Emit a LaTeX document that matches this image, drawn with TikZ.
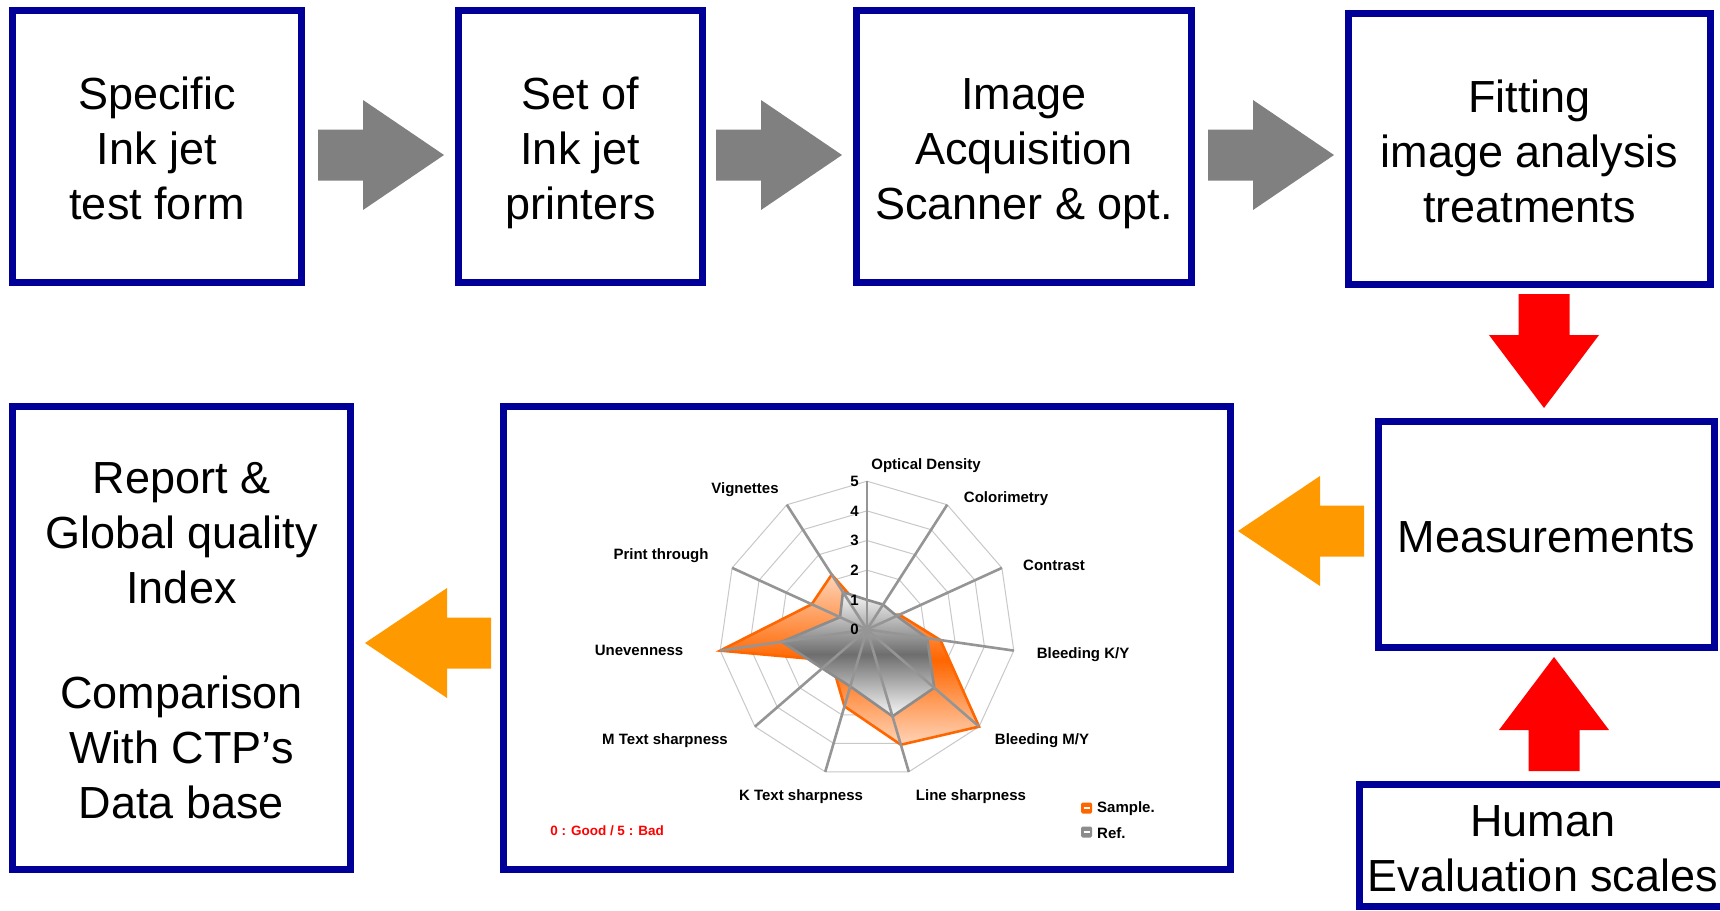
\documentclass[tikz,border=0pt]{standalone}
\usepackage{fontspec}
\setmainfont{Liberation Sans}
\usetikzlibrary{calc}

\definecolor{boxblue}{HTML}{000099}
\definecolor{flowgray}{HTML}{808080}
\definecolor{flowred}{HTML}{FF0000}
\definecolor{floworange}{HTML}{FF9900}
\definecolor{samplecol}{HTML}{FF6600}
\definecolor{samplelight}{HTML}{FFD4B8}
\definecolor{refline}{HTML}{8C8C8C}
\definecolor{refdark}{HTML}{6E6E6E}
\definecolor{reflight}{HTML}{F8F8F8}
\definecolor{gridcol}{HTML}{C8C8C8}
\definecolor{axiscol}{HTML}{959595}
\definecolor{notered}{HTML}{FF0000}

% line strut: every box line gets the same height and depth
\newcommand\lstrut{\rule[-9.5pt]{0pt}{55pt}}

% block arrow from tail #1 to tip #2, colour #3, head length #4
\newcommand\blockarrow[4]{%
  \fill[#3] let \p1=(#1), \p2=(#2),
    \n1={atan2(\y2-\y1,\x2-\x1)}, \n2={veclen(\x2-\x1,\y2-\y1)} in
    [shift={(\p1)}, rotate=\n1]
    (0,-25.5) -- ({\n2-#4},-25.5) -- ({\n2-#4},-55) -- ({\n2},0)
    -- ({\n2-#4},55) -- ({\n2-#4},25.5) -- (0,25.5) -- cycle;}

\begin{document}
\begin{tikzpicture}[x=1pt, y=-1pt,
  box/.style={draw=boxblue, line width=7, fill=white, align=center,
    inner sep=0, font=\fontsize{45}{55}\selectfont},
  gridline/.style={draw=gridcol, line width=1},
  axisline/.style={draw=axiscol, line width=2.6},
  catlabel/.style={font=\bfseries\fontsize{15}{17}\selectfont, inner sep=0},
  vallabel/.style={font=\bfseries\fontsize{15}{17}\selectfont, inner sep=0, anchor=east},
]
\useasboundingbox (0,0) rectangle (1720,910);
\clip (0,0) rectangle (1720,910);
\fill[white] (0,0) rectangle (1720,910);

% process boxes
\node[box, minimum width=289, minimum height=272] (b1) at (157,146.5)
  {\lstrut Specific\\\lstrut Ink jet\\\lstrut test form};
\node[box, minimum width=244, minimum height=272] (b2) at (580.5,146.5)
  {\lstrut Set of\\\lstrut Ink jet\\\lstrut printers};
\node[box, minimum width=335, minimum height=272] (b3) at (1024,146.5)
  {\lstrut Image\\\lstrut Acquisition\\\lstrut Scanner \& opt.};
\node[box, minimum width=362, minimum height=271] (b4) at (1529.5,149)
  {\lstrut Fitting\\\lstrut image analysis\\\lstrut treatments};
\node[box, minimum width=336, minimum height=226] (meas) at (1546.5,534.5)
  {\lstrut Measurements};
\node[box, minimum width=727, minimum height=463] (chart) at (867,638) {};
\node[box, minimum width=338, minimum height=463] (report) at (181.5,638)
  {\lstrut Report \&\\\lstrut Global quality\\\lstrut Index\\[50pt]%
   \lstrut Comparison\\\lstrut With CTP’s\\\lstrut Data base};
\node[box, minimum width=367, minimum height=122] (human) at (1543,845.5)
  {\lstrut Human\\\lstrut Evaluation scales};

% arrow end points
\coordinate (g1t) at (318,155);  \coordinate (g1h) at (444,155);
\coordinate (g2t) at (716,155);  \coordinate (g2h) at (842,155);
\coordinate (g3t) at (1208,155); \coordinate (g3h) at (1334,155);
\coordinate (rdt) at (1544,294); \coordinate (rdh) at (1544,408);
\coordinate (rut) at (1554,771); \coordinate (ruh) at (1554,657);
\coordinate (o1t) at (1364,531); \coordinate (o1h) at (1238,531);
\coordinate (o2t) at (491,643);  \coordinate (o2h) at (365,643);

\blockarrow{g1t}{g1h}{flowgray}{81}
\blockarrow{g2t}{g2h}{flowgray}{81}
\blockarrow{g3t}{g3h}{flowgray}{81}
\blockarrow{rdt}{rdh}{flowred}{73}
\blockarrow{rut}{ruh}{flowred}{73}
\blockarrow{o1t}{o1h}{floworange}{82}
\blockarrow{o2t}{o2h}{floworange}{82}

% radar chart
\def\cx{867}
\def\cy{629.5}
\def\unitv{29.66}
\coordinate (c) at (\cx,\cy);
\foreach \ka/\sv/\rv in {0/0.5/1.0, 1/0.6/1.0, 2/1.2/1.1, 3/2.5/2.05, 4/5/3.0,
    5/4.05/3.05, 6/2.7/2.0, 7/1.6/2.0, 8/5/2.9, 9/2.05/1.0, 10/2.2/1.5}{
  \coordinate (s\ka) at ({\cx+\sv*\unitv*sin(\ka*360/11)}, {\cy-\sv*\unitv*cos(\ka*360/11)});
  \coordinate (r\ka) at ({\cx+\rv*\unitv*sin(\ka*360/11)}, {\cy-\rv*\unitv*cos(\ka*360/11)});
  \coordinate (e\ka) at ({\cx+5*\unitv*sin(\ka*360/11)}, {\cy-5*\unitv*cos(\ka*360/11)});
}
% grid rings
\foreach \n in {1,...,5}{
  \draw[gridline] ({\cx},{\cy-\n*\unitv})
    \foreach \ka in {1,...,10}{ -- ({\cx+\n*\unitv*sin(\ka*360/11)}, {\cy-\n*\unitv*cos(\ka*360/11)}) }
    -- cycle;
}
% series
\draw[draw=samplecol, line width=2.6, line join=miter,
  top color=samplelight, bottom color=samplelight, middle color=samplecol]
  (s0) -- (s1) -- (s2) -- (s3) -- (s4) -- (s5) -- (s6) -- (s7) -- (s8) -- (s9) -- (s10) -- cycle;
\draw[draw=refline, line width=2.6, line join=miter,
  top color=reflight, bottom color=reflight, middle color=refdark]
  (r0) -- (r1) -- (r2) -- (r3) -- (r4) -- (r5) -- (r6) -- (r7) -- (r8) -- (r9) -- (r10) -- cycle;
% category axes
\foreach \ka in {0,...,10}{ \draw[axisline] (c) -- (e\ka); }
% scale values
\foreach \v in {0,...,5}{ \node[vallabel] (val\v) at ({\cx-8},{\cy-\v*\unitv}) {\v}; }
% category labels
\node[catlabel] (l0)  at (926,466)  {Optical Density};
\node[catlabel] (l1)  at (1006,499) {Colorimetry};
\node[catlabel] (l2)  at (1054,565) {Contrast};
\node[catlabel] (l3)  at (1083,655) {Bleeding K/Y};
\node[catlabel] (l4)  at (1042,741) {Bleeding M/Y};
\node[catlabel] (l5)  at (971,797)  {Line sharpness};
\node[catlabel] (l6)  at (801,797)  {K Text sharpness};
\node[catlabel] (l7)  at (665,741)  {M Text sharpness};
\node[catlabel] (l8)  at (639,650)  {Unevenness};
\node[catlabel] (l9)  at (661,556)  {Print through};
\node[catlabel] (l10) at (745,490)  {Vignettes};
\node[catlabel, text=notered, font=\bfseries\fontsize{13.5}{16}\selectfont]
  (note) at (607,831) {0 : Good / 5 : Bad};
% legend
\fill[samplecol, rounded corners=1.5] (1081,802.5) rectangle (1092,813.5);
\draw[white, line width=1.2] (1083.5,808) -- (1089.5,808);
\fill[refline, rounded corners=1.5] (1081,826.5) rectangle (1092,837.5);
\draw[white, line width=1.2] (1083.5,832) -- (1089.5,832);
\node[catlabel, anchor=west] (lg1) at (1097,809) {Sample.};
\node[catlabel, anchor=west] (lg2) at (1097,833) {Ref.};
\end{tikzpicture}
\end{document}
